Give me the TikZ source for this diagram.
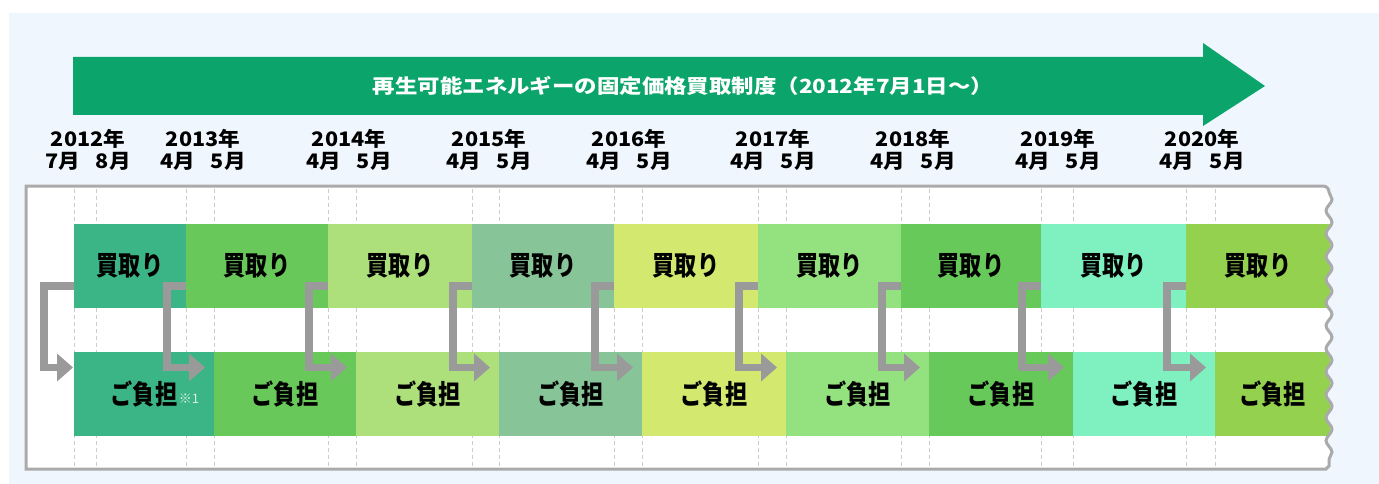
\documentclass[tikz,border=0pt]{standalone}
\usepackage{fontspec}
\setmainfont{Noto Sans CJK JP}
\newfontfamily\titlefont{Noto Sans CJK JP}[FakeStretch=1.15]
\newfontfamily\yearfont{Noto Sans CJK JP}[FakeStretch=1.08]
\newfontfamily\barfont{Noto Sans CJK JP}[FakeStretch=0.82]
\usepackage{tikz}
\usetikzlibrary{arrows.meta,positioning,calc,decorations.pathmorphing}

\definecolor{bgblue}{HTML}{F0F6FE}
\definecolor{fitgreen}{HTML}{0BA46A}
\definecolor{framegray}{HTML}{AAAAAA}
\definecolor{guidegray}{HTML}{CCCCCC}
\definecolor{carrygray}{HTML}{9A9A9A}
\definecolor{yearA}{HTML}{3BB585}
\definecolor{yearB}{HTML}{68C95A}
\definecolor{yearC}{HTML}{ADDF7B}
\definecolor{yearD}{HTML}{87C497}
\definecolor{yearE}{HTML}{D2E86F}
\definecolor{yearF}{HTML}{94E17F}
\definecolor{yearG}{HTML}{67C95A}
\definecolor{yearH}{HTML}{7FF0BF}
\definecolor{yearI}{HTML}{93D14F}

\begin{document}
\begin{tikzpicture}[x=1pt,y=1pt,node distance=0pt,inner sep=0pt,outer sep=0pt] \tikzstyle{bar}=[minimum height=84pt,text=black,font=\barfont\bfseries\fontsize{27}{27}\selectfont] \tikzstyle{year}=[align=center,font=\yearfont\bfseries\fontsize{20}{22}\selectfont] \tikzstyle{guide}=[draw=guidegray,line width=1pt,dash pattern=on 4pt off 3pt] \tikzstyle{carry}=[draw=carrygray,line width=7.5pt,-{Triangle[length=16pt,width=27pt]}] \tikzstyle{wave}=[decoration={snake,amplitude=3pt,segment length=23pt}]

  \useasboundingbox (0,0) rectangle (1379,-484);
  \fill[bgblue] (9,-13) rectangle (1379,-484);

  % big arrow with the title
  \fill[fitgreen] (73,-57) -- (1203,-57) -- (1203,-43) -- (1265,-86)
        -- (1203,-126) -- (1203,-115) -- (73,-115) -- cycle;
  \node[text=white,font=\titlefont\bfseries\fontsize{19.5}{20}\selectfont] (title) at (683,-86)
        {再生可能エネルギーの固定価格買取制度（2012年7月1日～）};

  % years
  \node[year] (y2012) at (88,-150)   {2012年\\7月\hspace{0.8em}8月};
  \node[year] (y2013) at (203,-150)  {2013年\\4月\hspace{0.8em}5月};
  \node[year] (y2014) at (349,-150)  {2014年\\4月\hspace{0.8em}5月};
  \node[year] (y2015) at (489,-150)  {2015年\\4月\hspace{0.8em}5月};
  \node[year] (y2016) at (629,-150)  {2016年\\4月\hspace{0.8em}5月};
  \node[year] (y2017) at (773,-150)  {2017年\\4月\hspace{0.8em}5月};
  \node[year] (y2018) at (913,-150)  {2018年\\4月\hspace{0.8em}5月};
  \node[year] (y2019) at (1058,-150) {2019年\\4月\hspace{0.8em}5月};
  \node[year] (y2020) at (1202,-150) {2020年\\4月\hspace{0.8em}5月};

  % frame
  \fill[white] (26,-186) -- (1323,-186) to[out=0,in=90] (1329,-192)
        decorate[wave] { -- (1329,-466) } -- (1326,-469) -- (26,-469) -- cycle;
  \foreach \x in {74,96,186,214,328,356,472,499,614,642,758,786,901,929,1041,1073,1186,1215}
    \draw[guide] (\x,-189) -- (\x,-467);

  \begin{scope}
    \clip (26,-186) -- (1323,-186) to[out=0,in=90] (1329,-192)
        decorate[wave] { -- (1329,-466) } -- (1326,-469) -- (26,-469) -- cycle;
    \node[bar,fill=yearA,minimum width=112pt,anchor=west] (buy1) at (74,-266) {買取り};
    \node[bar,fill=yearB,minimum width=142pt] (buy2) [right=of buy1] {買取り};
    \node[bar,fill=yearC,minimum width=144pt] (buy3) [right=of buy2] {買取り};
    \node[bar,fill=yearD,minimum width=142pt] (buy4) [right=of buy3] {買取り};
    \node[bar,fill=yearE,minimum width=144pt] (buy5) [right=of buy4] {買取り};
    \node[bar,fill=yearF,minimum width=143pt] (buy6) [right=of buy5] {買取り};
    \node[bar,fill=yearG,minimum width=140pt] (buy7) [right=of buy6] {買取り};
    \node[bar,fill=yearH,minimum width=145pt] (buy8) [right=of buy7] {買取り};
    \node[bar,fill=yearI,minimum width=144pt] (buy9) [right=of buy8] {買取り};

    \node[bar,fill=yearA,minimum width=140pt,anchor=west] (pay1) at (74,-393.5) {ご負担};
    \node[bar,fill=yearB,minimum width=142pt] (pay2) [right=of pay1] {ご負担};
    \node[bar,fill=yearC,minimum width=143pt] (pay3) [right=of pay2] {ご負担};
    \node[bar,fill=yearD,minimum width=143pt] (pay4) [right=of pay3] {ご負担};
    \node[bar,fill=yearE,minimum width=144pt] (pay5) [right=of pay4] {ご負担};
    \node[bar,fill=yearF,minimum width=143pt] (pay6) [right=of pay5] {ご負担};
    \node[bar,fill=yearG,minimum width=144pt] (pay7) [right=of pay6] {ご負担};
    \node[bar,fill=yearH,minimum width=142pt] (pay8) [right=of pay7] {ご負担};
    \node[bar,fill=yearI,minimum width=115pt] (pay9) [right=of pay8] {ご負担};
  \end{scope}
  \node[text=white!80!yearA,font=\fontsize{13}{13}\selectfont] (note1) at (189,-399) {※1};

  \draw[framegray,line width=3pt] (26,-186) -- (1323,-186) to[out=0,in=90] (1329,-192)
        decorate[wave] { -- (1329,-466) } -- (1326,-469) -- (26,-469) -- cycle;

  % carry-over arrows
  \draw[carry] ($(buy1.south west)+(0,22)$) -- ++(-30,0) |- ($(pay1.north west)+(-1,-16)$);
  \foreach \t/\b in {buy2/pay1,buy3/pay2,buy4/pay3,buy5/pay4,buy6/pay5,buy7/pay6,buy8/pay7,buy9/pay8}
    \draw[carry] ($(\t.south west)+(0,22)$) -- ++(-19,0) |- ($(\b.north east)+(-9,-16)$);
\end{tikzpicture}
\end{document}
